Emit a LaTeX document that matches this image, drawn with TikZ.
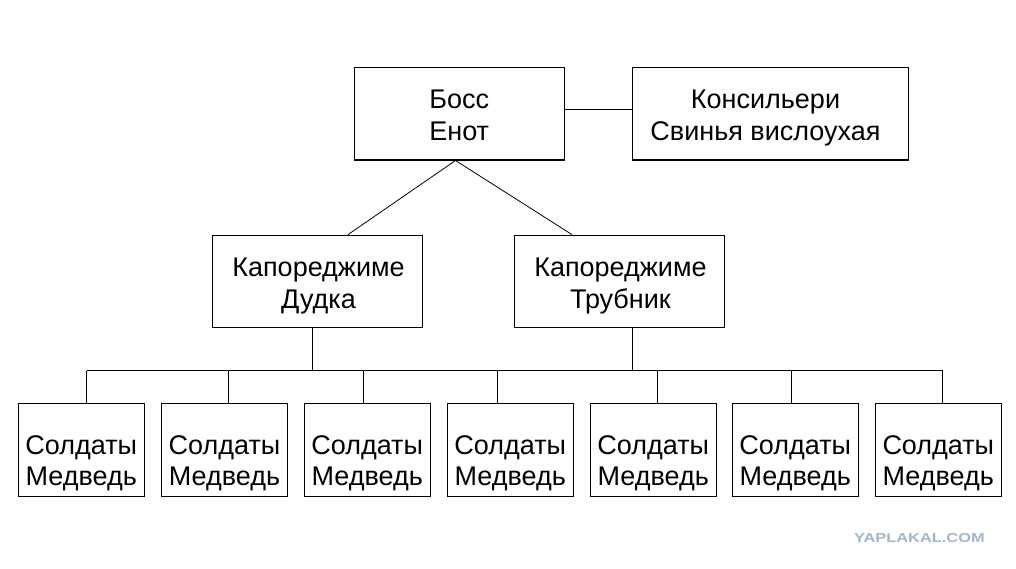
\documentclass[tikz,border=0pt]{standalone}
\usepackage{fontspec}
\usepackage{graphicx}
\setmainfont{Liberation Sans}
\definecolor{wm}{RGB}{160,182,204}
\begin{document}
\begin{tikzpicture}[x=1pt,y=-1pt,
  box/.style={draw=black,line width=1.1pt,fill=white,inner sep=0pt,minimum width=#1,minimum height=92.7pt},
  txt/.style={anchor=base,align=center,inner sep=0pt,font=\fontsize{27}{31.6}\selectfont},
  wire/.style={draw=black,line width=1pt},
  thin/.style={draw=black,line width=0.8pt}]
\useasboundingbox[fill=white] (0,0) rectangle (1016,568);
% boxes
\node[box=210.3pt] (boss) at (459.2,113.6) {};
\node[box=276.4pt] (cons) at (770.5,113.6) {};
\node[box=209.6pt] (capA) at (317.5,281.5) {};
\node[box=209.9pt] (capB) at (619.4,281.5) {};
\node[box=126pt] (s1) at (81.3,449.7) {};
\node[box=126pt] (s2) at (224.5,449.7) {};
\node[box=126pt] (s3) at (367.2,449.7) {};
\node[box=126pt] (s4) at (510.3,449.7) {};
\node[box=126pt] (s5) at (653.3,449.7) {};
\node[box=126pt] (s6) at (795.3,449.7) {};
\node[box=126pt] (s7) at (938.3,449.7) {};
% texts (anchor base = baseline of the last line)
\node[txt] (bosst) at ([yshift=-26.4pt]boss.center) {Босс\\Енот};
\node[txt] (const) at ([xshift=-5pt,yshift=-26.4pt]cons.center) {Консильери\\Свинья вислоухая};
\node[txt] (capAt) at ([xshift=1pt,yshift=-26.8pt]capA.center) {Капореджиме\\Дудка};
\node[txt] (capBt) at ([xshift=1pt,yshift=-26.8pt]capB.center) {Капореджиме\\Трубник};
\foreach \s in {s1,s2,s3,s4,s5,s6,s7}{
  \node[txt] (\s t) at ([yshift=-36.1pt]\s.center) {Солдаты\\Медведь};
}
% connectors
\draw[wire] ([yshift=4.3pt]boss.east) -- ([yshift=4.3pt]cons.west);
\draw[thin] ([xshift=-3.7pt]boss.south) -- ([xshift=30.5pt]capA.north);
\draw[thin] ([xshift=-3.7pt]boss.south) -- ([xshift=-47.4pt]capB.north);
\coordinate (kA) at (312.3,370.7);
\coordinate (kB) at (632.3,370.7);
\coordinate (d1) at (86.7,370.7);
\coordinate (d2) at (228.3,370.7);
\coordinate (d3) at (363.3,370.7);
\coordinate (d4) at (497.3,370.7);
\coordinate (d5) at (657.3,370.7);
\coordinate (d6) at (791.7,370.7);
\coordinate (d7) at (942.7,370.7);
\draw[wire] (kA |- capA.south) -- (kA);
\draw[wire] (kB |- capB.south) -- (kB);
\draw[wire] (d1) -- (d7);
\draw[wire] (d1) -- (d1 |- s1.north);
\draw[wire] (d2) -- (d2 |- s2.north);
\draw[wire] (d3) -- (d3 |- s3.north);
\draw[wire] (d4) -- (d4 |- s4.north);
\draw[wire] (d5) -- (d5 |- s5.north);
\draw[wire] (d6) -- (d6 |- s6.north);
\draw[wire] (d7) -- (d7 |- s7.north);
% watermark
\node[anchor=base west,inner sep=0pt,text=wm,font=\fontsize{13}{13}\selectfont\bfseries] (wmark) at (854,542.7) {\scalebox{1.26}[1]{YAPLAKAL.COM}};
\end{tikzpicture}
\end{document}
